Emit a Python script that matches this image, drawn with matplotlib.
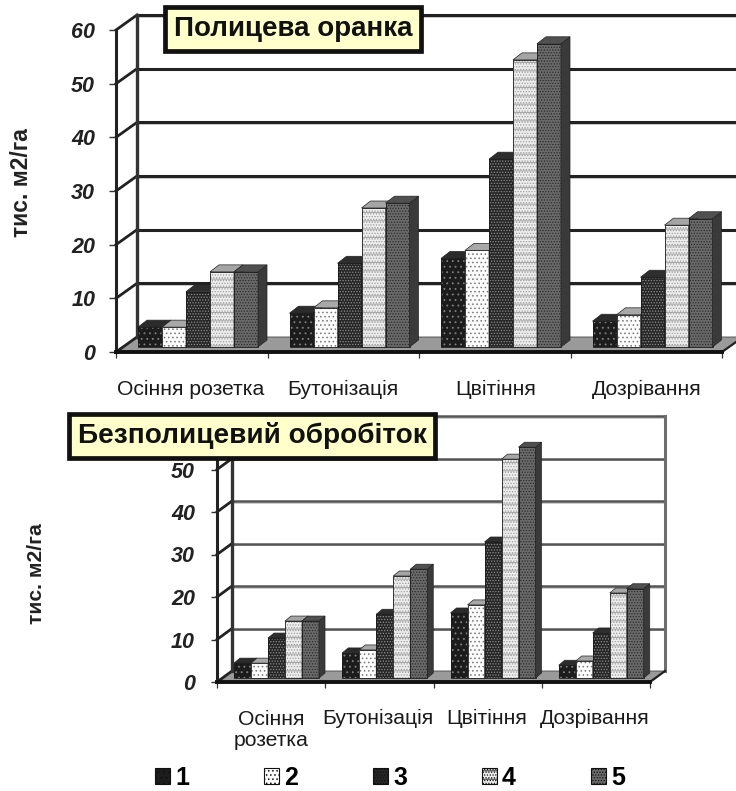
import matplotlib
matplotlib.use('Agg')
import matplotlib.pyplot as plt
from matplotlib.patches import Polygon, Patch

plt.rcParams['font.family'] = ['Liberation Sans', 'DejaVu Sans']
plt.rcParams['hatch.linewidth'] = 0.6

stages_top = ['Осіння розетка', 'Бутонізація', 'Цвітіння', 'Дозрівання']
stages_bottom = ['Осіння\nрозетка', 'Бутонізація', 'Цвітіння', 'Дозрівання']
series = ['1', '2', '3', '4', '5']
yticks_top = [0, 10, 20, 30, 40, 50, 60]
yticks_bottom = [0, 10, 20, 30, 40, 50]

# тис. м2/га, one list per series
plough_1 = [3.7, 6.3, 16.5, 4.8]
plough_2 = [3.7, 7.3, 18.0, 6.0]
plough_3 = [10.3, 15.6, 35.0, 13.0]
plough_4 = [14.0, 25.9, 53.5, 22.7]
plough_5 = [14.0, 26.8, 56.5, 23.9]

noplough_1 = [3.5, 5.9, 15.3, 3.0]
noplough_2 = [3.5, 6.6, 17.2, 4.0]
noplough_3 = [9.4, 15.0, 32.0, 10.6]
noplough_4 = [13.4, 24.0, 51.5, 20.0]
noplough_5 = [13.4, 25.6, 54.3, 21.0]

# front face, hatch colour, hatch, side, top
looks = [
    ('#1c1c1c', '#808080', '...', '#111111', '#2b2b2b'),
    ('#fbfbfb', '#777777', '....', '#c8c8c8', '#a8a8a8'),
    ('#262626', '#8f8f8f', '......', '#141414', '#2e2e2e'),
    ('#eeeeee', '#9a9a9a', '......--', '#b0b0b0', '#a5a5a5'),
    ('#6a6a6a', '#2a2a2a', '......', '#3a3a3a', '#505050'),
]

W, H = 736, 791
fig = plt.figure(figsize=(W / 100, H / 100), dpi=100)


def make_axes(left, right, y0, y60):
    ax = fig.add_axes([left / W, 1 - y0 / H, (right - left) / W, (y0 - y60) / H])
    ax.set_xlim(0, 4)
    ax.set_ylim(0, 60)
    ax.patch.set_alpha(0)
    ax.spines['top'].set_visible(False)
    ax.spines['right'].set_visible(False)
    return ax


def draw_panel(ax, groups, wall, bar_base, bar_depth, gap, bar_w, yticks, gridc, gridw,
               ticklen, tickpad):
    px_x = ax.get_position().width * W / 4
    px_y = ax.get_position().height * H / 60
    wx, wy = wall[0] / px_x, wall[1] / px_y
    # floor
    ax.add_patch(Polygon([(0, 0), (4, 0), (4 + wx, wy), (wx, wy)], closed=True,
                         fc='#9a9a9a', ec='#444444', lw=0.6, clip_on=False, zorder=1))
    # back wall grid and side wall
    for t in yticks_top:
        if t > 0:
            ax.plot([wx, 4 + wx], [t + wy - 1.8 / px_y] * 2, color='#c4c4c4', lw=1.2,
                    clip_on=False, zorder=1, solid_capstyle='butt')
            ax.plot([wx, 4 + wx], [t + wy, t + wy], color=gridc, lw=gridw,
                    clip_on=False, zorder=1, solid_capstyle='butt')
        ax.plot([0, wx], [t, t + wy], color='#222222', lw=2, clip_on=False, zorder=1)
    ax.plot([wx, wx], [wy, 60 + wy], color='#333333', lw=2.4, clip_on=False, zorder=1)
    ax.plot([4 + wx, 4 + wx], [wy, 60 + wy], color='#6e6e6e', lw=2.2, clip_on=False, zorder=1)
    ax.plot([4, 4 + wx], [0, wy], color='#222222', lw=1.6, clip_on=False, zorder=1)

    bx, by = bar_base[0] / px_x, bar_base[1] / px_y
    dx, dy = bar_depth[0] / px_x, bar_depth[1] / px_y
    w = bar_w / px_x
    for s, vals in enumerate(groups):
        face, hc, hatch, side, top = looks[s]
        for c, v in enumerate(vals):
            x = c + bx + (gap + s * bar_w) / px_x
            z = 3 + s
            ax.bar(x, v, w, bottom=by, align='edge', color=face, hatch=hatch,
                   edgecolor=hc, lw=0, clip_on=False, zorder=z)
            ax.bar(x, v, w, bottom=by, align='edge', fill=False, edgecolor='#1a1a1a',
                   lw=0.6, clip_on=False, zorder=z)
            ax.add_patch(Polygon([(x + w, by), (x + w + dx, by + dy),
                                  (x + w + dx, by + v + dy), (x + w, by + v)], closed=True,
                                 fc=side, ec='#222222', lw=0.5, clip_on=False, zorder=z))
            ax.add_patch(Polygon([(x, by + v), (x + w, by + v),
                                  (x + w + dx, by + v + dy), (x + dx, by + v + dy)], closed=True,
                                 fc=top, ec='#222222', lw=0.5, clip_on=False, zorder=z))

    ax.set_yticks(yticks)
    ax.set_xticks(range(5))
    ax.set_xticklabels([])
    ax.tick_params(axis='x', length=4.3, width=0.9, color='#333333')
    ax.tick_params(axis='y', length=ticklen, width=1, color='#333333', pad=tickpad)
    for lab in ax.get_yticklabels():
        lab.set_fontsize(15.5)
        lab.set_fontweight('bold')
        lab.set_fontstyle('italic')
        lab.set_color('#222222')
    ax.spines['left'].set_linewidth(2.2)
    ax.spines['bottom'].set_linewidth(2.8)
    ax.spines['left'].set_color('#222222')
    ax.spines['bottom'].set_color('#111111')


def ftext(x, y, s, **kw):
    fig.text(x / W, 1 - y / H, s, ha='center', va='center', **kw)


ax1 = make_axes(116, 722, 352, 30)
draw_panel(ax1, [plough_1, plough_2, plough_3, plough_4, plough_5],
           (21, 15), (7, 5), (9, 7), 15, 24, yticks_top, '#222222', 2.2, 5, 10)

ax2 = make_axes(217, 650, 682, 427)
draw_panel(ax2, [noplough_1, noplough_2, noplough_3, noplough_4, noplough_5],
           (15, 11), (5, 4), (6, 5), 12, 17, yticks_bottom, '#555555', 1.8, 4.3, 11.5)

for x, s in zip([191, 343, 496, 647], stages_top):
    ftext(x, 389, s, fontsize=15.2, color='#1a1a1a')
for x, s in zip([271, 378, 487, 595], stages_bottom):
    ftext(x, 730 if '\n' in s else 718, s, fontsize=15.2, color='#1a1a1a', linespacing=1.12)

ftext(22, 183, 'тис. м2/га', fontsize=16.5, fontweight='bold', rotation=90, color='#222222')
ftext(37, 574, 'тис. м2/га', fontsize=15.2, fontweight='bold', rotation=90, color='#222222')

ftext(293, 29, 'Полицева оранка', fontsize=20, fontweight='bold', color='#111111', zorder=20,
      bbox=dict(boxstyle='square,pad=0.33', fc='#ffffcc', ec='#111111', lw=3.4))
ftext(252, 436, 'Безполицевий обробіток', fontsize=20.2, fontweight='bold', color='#111111', zorder=20,
      bbox=dict(boxstyle='square,pad=0.3', fc='#ffffcc', ec='#111111', lw=3.4))

handles = [Patch(facecolor=l[0], edgecolor='#111111', hatch=l[2], lw=0.8, label=s)
           for l, s in zip(looks, series)]
fig.legend(handles=handles, ncols=5, loc='center', bbox_to_anchor=(390 / W, 1 - 778 / H),
           frameon=False, handlelength=0.6, handleheight=0.6, handletextpad=0.2,
           columnspacing=3.0, prop={'size': 18, 'weight': 'bold'})

fig.savefig('out.png', dpi=100)
